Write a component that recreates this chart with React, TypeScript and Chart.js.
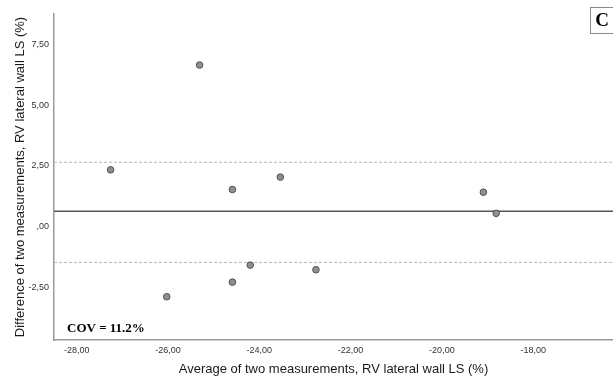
import React, { useEffect, useRef } from "react";
import { Chart, registerables } from "chart.js";

Chart.register(...registerables);

// ---- data ----
const avgValues = [-27.26, -25.31, -24.59, -23.54, -26.03, -24.59, -24.2, -22.76, -19.09, -18.81];
const diffValues = [2.34, 6.65, 1.53, 2.04, -2.88, -2.28, -1.58, -1.77, 1.42, 0.55];
const meanDiff = 0.64;
const upperLimit = 2.65;
const lowerLimit = -1.47;
const xTicks = [-28, -26, -24, -22, -20, -18];
const yTicks = [-2.5, 0, 2.5, 5, 7.5];
const xMin = -28.5;
const xMax = -16.25;
const yMin = -4.66;
const yMax = 8.75;
const xTitle = "Average of two measurements, RV lateral wall LS (%)";
const yTitle = "Difference of two measurements, RV lateral wall LS (%)";
const panelLabel = "C";
const covText = "COV = 11.2%";

function fmt(v: number): string {
  const s = Math.abs(v).toFixed(2).replace(".", ",");
  const t = s.startsWith("0,") ? s.slice(1) : s;
  return (v < 0 ? "-" : "") + t;
}

const annotations = {
  id: "annotations",
  afterDraw(chart: any) {
    const ctx = chart.ctx;
    ctx.save();
    // panel label box
    ctx.strokeStyle = "#8a8a8a";
    ctx.lineWidth = 1;
    ctx.strokeRect(590.5, 7.5, 30, 26);
    ctx.fillStyle = "#000";
    ctx.font = "bold 19px 'Liberation Serif', 'Times New Roman', serif";
    ctx.textAlign = "center";
    ctx.textBaseline = "middle";
    ctx.fillText(panelLabel, 602, 21);
    // COV text
    ctx.font = "bold 13px 'Liberation Serif', 'Times New Roman', serif";
    ctx.textAlign = "left";
    ctx.textBaseline = "alphabetic";
    ctx.fillText(covText, 67, 332);
    ctx.restore();
  },
};

export default function App() {
  const ref = useRef<HTMLCanvasElement | null>(null);
  useEffect(() => {
    if (!ref.current) return;
    const lineSeg = (y: number) => [
      { x: xMin, y },
      { x: xMax, y },
    ];
    const chart = new Chart(ref.current, {
      type: "scatter",
      data: {
        datasets: [
          {
            label: "points",
            data: avgValues.map((x, i) => ({ x, y: diffValues[i] })),
            pointRadius: 3.3,
            pointBackgroundColor: "#8f8f8f",
            pointBorderColor: "#505050",
            pointBorderWidth: 1,
            showLine: false,
            order: 0,
          },
          {
            label: "mean",
            type: "line",
            data: lineSeg(meanDiff),
            borderColor: "#555555",
            borderWidth: 1.5,
            pointRadius: 0,
            order: 1,
          },
          {
            label: "upper",
            type: "line",
            data: lineSeg(upperLimit),
            borderColor: "#b8b8b8",
            borderWidth: 1,
            borderDash: [3, 2],
            pointRadius: 0,
            order: 1,
          },
          {
            label: "lower",
            type: "line",
            data: lineSeg(lowerLimit),
            borderColor: "#b8b8b8",
            borderWidth: 1,
            borderDash: [3, 2],
            pointRadius: 0,
            order: 1,
          },
        ] as any,
      },
      options: {
        animation: false,
        responsive: false,
        maintainAspectRatio: false,
        layout: { padding: { top: 14, right: 0, left: 0, bottom: 0 } },
        plugins: {
          legend: { display: false },
          tooltip: { enabled: false },
        },
        scales: {
          x: {
            type: "linear",
            min: xMin,
            max: xMax,
            afterBuildTicks: (s: any) => {
              s.ticks = xTicks.map((value) => ({ value }));
            },
            afterFit: (s: any) => {
              s.height = 39;
              s.paddingLeft = 0;
              s.paddingRight = 0;
            },
            grid: { display: false, drawTicks: false },
            border: { display: true, color: "#9a9a9a", width: 1.5 },
            ticks: {
              callback: (v: any) => fmt(Number(v)),
              font: { family: "'Liberation Sans', Arial, sans-serif", size: 9 },
              color: "#333",
              padding: 5,
              maxRotation: 0,
              autoSkip: false,
            },
            title: {
              display: true,
              text: xTitle,
              font: { family: "'Liberation Sans', Arial, sans-serif", size: 13 },
              color: "#1a1a1a",
              padding: { top: 0, bottom: 2 },
            },
          },
          y: {
            type: "linear",
            min: yMin,
            max: yMax,
            afterBuildTicks: (s: any) => {
              s.ticks = yTicks.map((value) => ({ value }));
            },
            afterFit: (s: any) => {
              s.width = 54;
            },
            grid: { display: false, drawTicks: false },
            border: { display: true, color: "#9a9a9a", width: 1.5 },
            ticks: {
              callback: (v: any) => fmt(Number(v)),
              font: { family: "'Liberation Sans', Arial, sans-serif", size: 9 },
              color: "#333",
              padding: 5,
              autoSkip: false,
            },
            title: {
              display: true,
              text: yTitle,
              font: { family: "'Liberation Sans', Arial, sans-serif", size: 13 },
              color: "#1a1a1a",
              padding: { top: 13, bottom: 0 },
            },
          },
        },
      },
      plugins: [annotations],
    });
    return () => chart.destroy();
  }, []);
  return (
    <div
      style={{
        position: "absolute",
        left: 0,
        top: 0,
        width: 613,
        height: 379,
        overflow: "hidden",
        background: "#fff",
      }}
    >
      <canvas ref={ref} width={618} height={379} style={{ display: "block" }} />
    </div>
  );
}
